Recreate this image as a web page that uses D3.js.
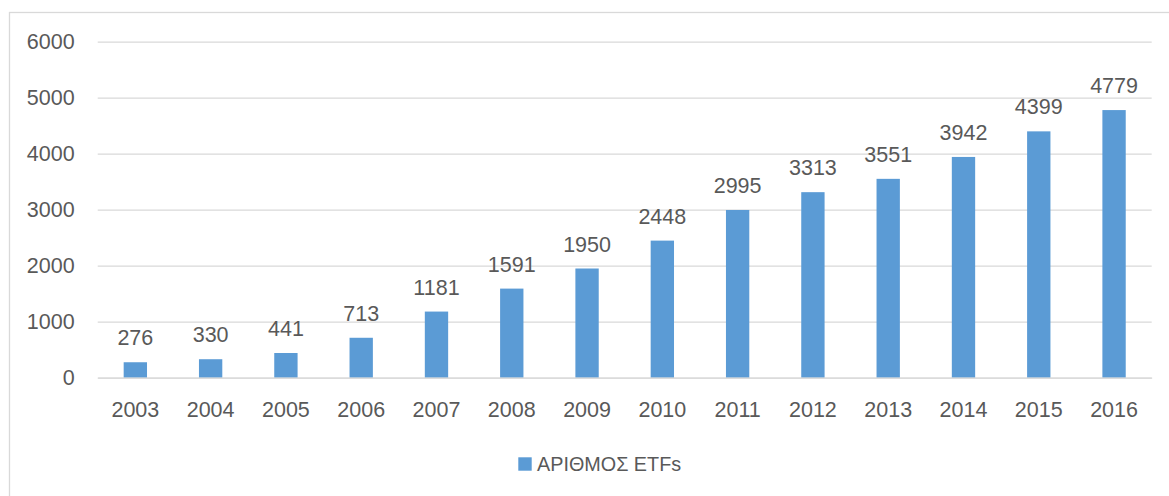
<!DOCTYPE html>
<html><head><meta charset="utf-8">
<script src="https://cdn.jsdelivr.net/npm/d3@7"></script>
<style>body{margin:0;background:#fff}svg{display:block}text{font-family:"Liberation Sans",Arial,sans-serif}</style>
</head><body>
<svg id="c" width="1169" height="496"></svg>
<script>
const years = ["2003","2004","2005","2006","2007","2008","2009","2010","2011","2012","2013","2014","2015","2016"];
const etfs = [276,330,441,713,1181,1591,1950,2448,2995,3313,3551,3942,4399,4779];
const yTicks = [0,1000,2000,3000,4000,5000,6000];
const seriesName = "ΑΡΙΘΜΟΣ ETFs";

const svg = d3.select("#c");
const m = {left: 97.7, right: 1151.7, top: 41.7, bottom: 377.7};
const fs = 21.5, col = "#595959", bar = "#5b9bd5", grid = "#d9d9d9";

// chart border (top/left visible)
svg.append("rect").attr("x", 9.5).attr("y", 12.5).attr("width", 1200).attr("height", 600)
  .attr("fill", "none").attr("stroke", grid).attr("stroke-width", 1.3);

const x = d3.scaleBand().domain(years).range([m.left, m.right]).paddingInner(0.69).paddingOuter(0.345);
const y = d3.scaleLinear().domain([0, 6000]).range([m.bottom, m.top]);

const yAx = svg.append("g").attr("transform", `translate(${m.left},0)`)
  .call(d3.axisLeft(y).tickValues(yTicks).tickSize(-(m.right - m.left)).tickPadding(23).tickFormat(d3.format("d")));
yAx.select(".domain").remove();
yAx.selectAll(".tick line").attr("stroke", grid).attr("stroke-width", 1.3);
yAx.selectAll(".tick text").attr("fill", col).style("font-size", fs + "px");

svg.append("g").selectAll("rect").data(years).join("rect")
  .attr("x", d => x(d)).attr("width", x.bandwidth())
  .attr("y", (d, i) => y(etfs[i])).attr("height", (d, i) => y(0) - y(etfs[i]))
  .attr("fill", bar);

svg.append("g").selectAll("text").data(years).join("text")
  .attr("x", d => x(d) + x.bandwidth() / 2).attr("y", (d, i) => y(etfs[i]) - 17)
  .attr("text-anchor", "middle").attr("fill", col).style("font-size", fs + "px")
  .text((d, i) => etfs[i]);

const xAx = svg.append("g").attr("transform", `translate(0,${m.bottom})`)
  .call(d3.axisBottom(x).tickSize(0).tickPadding(24.3));
xAx.select(".domain").attr("stroke", grid).attr("stroke-width", 1.3);
xAx.selectAll(".tick text").attr("fill", col).style("font-size", fs + "px");

const lg = svg.append("g");
lg.append("rect").attr("x", 518.3).attr("y", 457.3).attr("width", 13.4).attr("height", 13.4).attr("fill", bar);
lg.append("text").attr("x", 537).attr("y", 471.3).attr("fill", col).style("font-size", "19.8px").text(seriesName);
</script>
</body></html>
